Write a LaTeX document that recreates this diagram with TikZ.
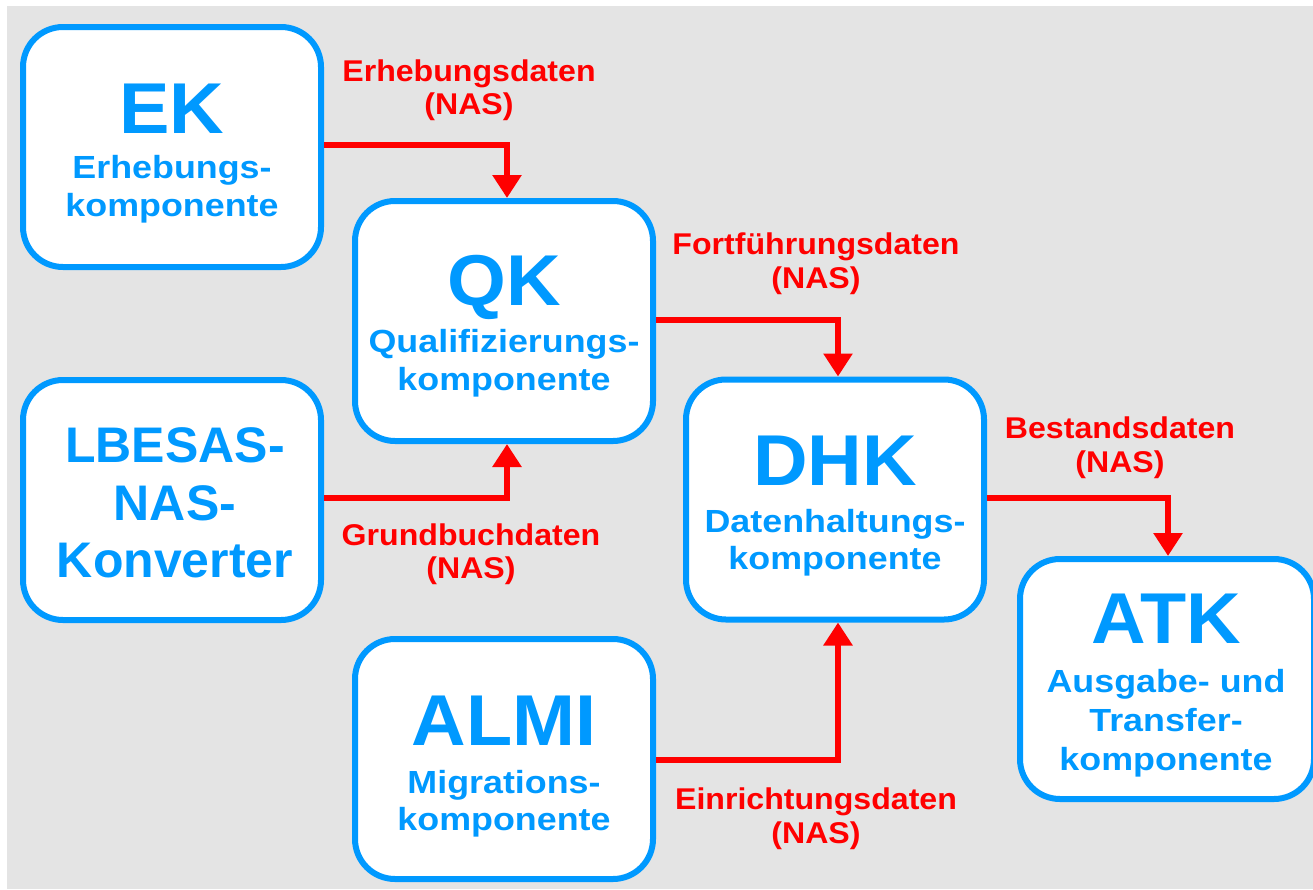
\documentclass[tikz,border=0pt]{standalone}
\usepackage{fontspec}
\usetikzlibrary{arrows.meta}
\newfontfamily\bigfam[FakeStretch=1.05]{Liberation Sans}
\newfontfamily\subfam[FakeStretch=1.12]{Liberation Sans}
\newfontfamily\labfam[FakeStretch=1.07]{Liberation Sans}
\newfontfamily\midfam{Liberation Sans}
\definecolor{boxblue}{RGB}{0,153,255}
\definecolor{arrred}{RGB}{255,0,0}
\definecolor{bggray}{RGB}{228,228,228}
\begin{document}
\begin{tikzpicture}[x=1pt,y=-1pt,
  box/.style={draw=boxblue, line width=6pt, fill=white, rounded corners=40pt,
    minimum width=298pt, minimum height=240pt, inner sep=0pt},
  bigtxt/.style={text=boxblue, font=\bigfam\bfseries\fontsize{72}{72}\selectfont, anchor=base, inner sep=0pt},
  subtxt/.style={text=boxblue, font=\subfam\bfseries\fontsize{32}{32}\selectfont, anchor=base, inner sep=0pt},
  midtxt/.style={text=boxblue, font=\midfam\bfseries\fontsize{50}{50}\selectfont, anchor=base, inner sep=0pt},
  labtxt/.style={text=arrred, font=\labfam\bfseries\fontsize{30}{30}\selectfont, anchor=base, inner sep=0pt},
  arr/.style={draw=arrred, line width=6pt, -{Triangle[width=28pt,length=23pt]}}
]
\useasboundingbox (0,0) rectangle (1313,889);
\fill[white] (0,0) rectangle (1313,889);
\fill[bggray] (7,6) rectangle (1313,889);

% boxes
\node[box] (ek) at (172,147) {};
\node[box] (qk) at (504,321) {};
\node[box] (lb) at (172,500) {};
\node[box] (dhk) at (835,499.5) {};
\node[box] (almi) at (504,759) {};
\node[box, minimum width=294pt] (atk) at (1167,679) {};

% box texts
\node[bigtxt] (ekt) at (172,133) {EK};
\node[subtxt] (ek1) at (172,178) {Erhebungs-};
\node[subtxt] (ek2) at (172,216) {komponente};

\node[bigtxt] (qkt) at (504,305) {QK};
\node[subtxt] (qk1) at (504,352) {Qualifizierungs-};
\node[subtxt] (qk2) at (504,390) {komponente};

\node[midtxt] (lb1) at (175,462) {LBESAS-};
\node[midtxt] (lb2) at (175,520) {NAS-};
\node[midtxt] (lb3) at (175,577) {Konverter};

\node[bigtxt] (dhkt) at (835,485) {DHK};
\node[subtxt] (dhk1) at (835,532) {Datenhaltungs-};
\node[subtxt] (dhk2) at (835,569) {komponente};

\node[bigtxt] (almit) at (504,745) {ALMI};
\node[subtxt] (almi1) at (504,793) {Migrations-};
\node[subtxt] (almi2) at (504,830) {komponente};

\node[bigtxt] (atkt) at (1166,643) {ATK};
\node[subtxt] (atk1) at (1166,692) {Ausgabe- und};
\node[subtxt] (atk2) at (1166,731) {Transfer-};
\node[subtxt] (atk3) at (1166,770) {komponente};

% connectors
\draw[arr] ([yshift=2pt]ek.east) -| ([xshift=3pt]qk.north);
\draw[arr] ([yshift=1pt]qk.east) -| ([xshift=3pt]dhk.north);
\draw[arr] ([yshift=2pt]lb.east) -| ([xshift=3pt]qk.south);
\draw[arr] ([yshift=-1pt]almi.east) -| ([xshift=3pt]dhk.south);
\draw[arr] ([yshift=1.5pt]dhk.east) -| ([xshift=1pt]atk.north);

% connector labels
\node[labtxt] (l1a) at (469,81) {Erhebungsdaten};
\node[labtxt] (l1b) at (469,114) {(NAS)};
\node[labtxt] (l2a) at (816,254) {Fortführungsdaten};
\node[labtxt] (l2b) at (816,288) {(NAS)};
\node[labtxt] (l3a) at (1120,438) {Bestandsdaten};
\node[labtxt] (l3b) at (1120,472) {(NAS)};
\node[labtxt] (l4a) at (471,545) {Grundbuchdaten};
\node[labtxt] (l4b) at (471,578) {(NAS)};
\node[labtxt] (l5a) at (816,809) {Einrichtungsdaten};
\node[labtxt] (l5b) at (816,843) {(NAS)};
\end{tikzpicture}
\end{document}
